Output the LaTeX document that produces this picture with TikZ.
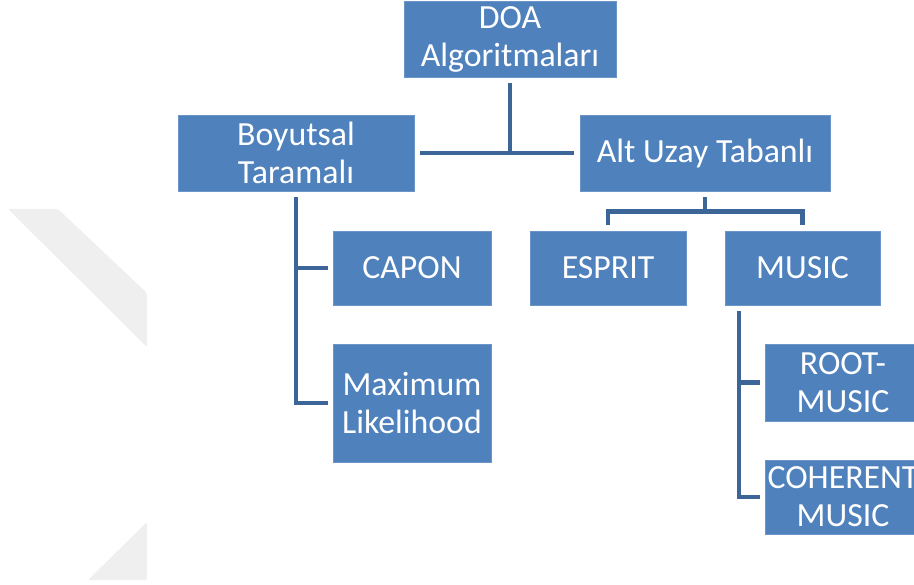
\documentclass[tikz,border=0pt]{standalone}
\usepackage{fontspec}
\setmainfont{Carlito}
\definecolor{boxblue}{HTML}{4F81BD}
\definecolor{boxedge}{HTML}{6B95C9}
\definecolor{linkblue}{HTML}{3C6598}
\definecolor{markgray}{HTML}{EFEFEF}
\begin{document}
\begin{tikzpicture}[x=1bp,y=-1bp,
  catbox/.style={fill=boxblue,draw=boxedge,line width=0.8bp,text=white,align=center,
    inner sep=0pt,font=\fontsize{33.8bp}{38bp}\selectfont},
  conn/.style={draw=linkblue,line width=4.2bp}]
\useasboundingbox (0,0) rectangle (914,585);
\clip (0,0) rectangle (914,585);
% faint background marks on the left
\fill[markgray,rounded corners=2bp] (8,209) -- (58,209) -- (147,293) -- (147,347) -- cycle;
\fill[markgray,rounded corners=2bp] (147,522) -- (147,580) -- (88,580) -- cycle;
% boxes
\node[catbox,minimum width=212bp,minimum height=76bp] (doa) at (510,39) {DOA\\Algoritmaları};
\node[catbox,minimum width=236bp,minimum height=76bp] (boy) at (296,153) {Boyutsal\\Taramalı};
\node[catbox,minimum width=250bp,minimum height=76bp] (alt) at (705,153) {Alt Uzay Tabanlı};
\node[catbox,minimum width=158bp,minimum height=74bp] (capon) at (412,268) {CAPON};
\node[catbox,minimum width=158bp,minimum height=118bp] (ml) at (412,403) {Maximum\\Likelihood};
\node[catbox,minimum width=156bp,minimum height=74bp] (esprit) at (608,268) {ESPRIT};
\node[catbox,minimum width=155bp,minimum height=74bp] (music) at (802.5,268) {MUSIC};
\node[catbox,minimum width=156bp,minimum height=77bp] (root) at (843,382.5) {ROOT-\\MUSIC};
\node[catbox,minimum width=156bp,minimum height=74bp] (coh) at (843,497) {COHERENT\\MUSIC};
% top level links
\draw[conn] ([yshift=-6bp]doa.south) -- (doa.south |- boy.east);
\draw[conn] ([xshift=6bp]boy.east) -- ([xshift=-6bp]alt.west);
% Boyutsal Taramalı branch
\draw[conn] ([yshift=-6bp]boy.south) |- ([xshift=-5bp]ml.west);
\draw[conn] (boy.south |- capon.west) -- ([xshift=-5bp]capon.west);
% Alt Uzay Tabanlı branch
\draw[conn] ([yshift=-6bp]alt.south) -- ([yshift=-20bp]alt.south);
\draw[conn] ([yshift=6bp]esprit.north) |- ([yshift=-20bp]alt.south) -| ([yshift=6bp]music.north);
% MUSIC branch
\draw[conn] ([xshift=14bp,yshift=-6bp]music.south west) |- ([xshift=-5bp]coh.west);
\draw[conn] ([xshift=14bp]music.south west |- root.west) -- ([xshift=-5bp]root.west);
\end{tikzpicture}
\end{document}
